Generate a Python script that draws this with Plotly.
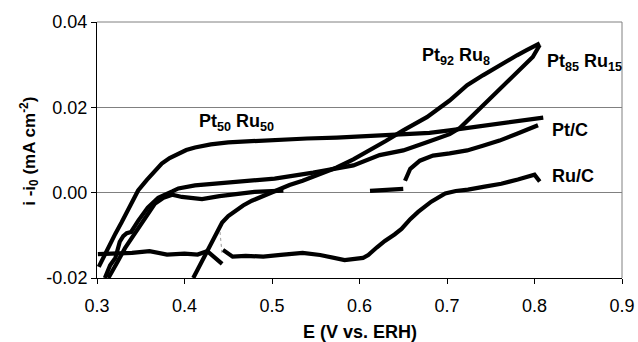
import plotly.graph_objects as go

# ---- data ----
pt50ru50_x = [0.302, 0.312, 0.321, 0.328, 0.335, 0.341, 0.347, 0.357, 0.366, 0.374, 0.383, 0.393, 0.402, 0.412,
              0.43, 0.45, 0.475, 0.503, 0.54, 0.574, 0.61, 0.65, 0.68, 0.703, 0.73, 0.76, 0.785, 0.81]
pt50ru50_y = [-0.0174, -0.013, -0.0096, -0.007, -0.0042, -0.0018, 0.0005, 0.003, 0.0052, 0.0068, 0.0081, 0.0092,
              0.0100, 0.0106, 0.0113, 0.0118, 0.0121, 0.0124, 0.0127, 0.0129, 0.0132, 0.0136, 0.0140, 0.0146,
              0.0153, 0.0162, 0.0169, 0.0176]

pt85ru15_x = [0.309, 0.315, 0.321, 0.326, 0.33, 0.334, 0.339, 0.347, 0.358, 0.37, 0.386, 0.393, 0.412, 0.446,
              0.475, 0.503, 0.547, 0.593, 0.623, 0.65, 0.677, 0.703, 0.715, 0.728, 0.741, 0.76, 0.78, 0.798, 0.806]
pt85ru15_y = [-0.020, -0.017, -0.0153, -0.0115, -0.0102, -0.0095, -0.0092, -0.0066, -0.0035, -0.0012, 0.0003,
              0.001, 0.0017, 0.0023, 0.0028, 0.0033, 0.0047, 0.0064, 0.0088, 0.0099, 0.0118, 0.0137, 0.0152,
              0.0178, 0.0205, 0.0243, 0.028, 0.0318, 0.0346]

ptc_x = [0.313, 0.318, 0.324, 0.332, 0.34, 0.347, 0.355, 0.366, 0.376, 0.386, 0.397, 0.41, 0.42, 0.44, 0.46,
         0.48, 0.513, None, 0.612, 0.63, 0.65, None, 0.652, 0.658, 0.669, 0.684, 0.703, 0.723, 0.741, 0.76,
         0.78, 0.804]
ptc_y = [-0.020, -0.018, -0.016, -0.013, -0.0106, -0.0085, -0.0059, -0.0026, -0.0012, -0.0005, -0.001,
         -0.0013, -0.0015, -0.0008, -0.0003, 0.0002, 0.0005, None, 0.0004, 0.0006, 0.0009, None, 0.0028,
         0.0056, 0.0075, 0.0087, 0.0092, 0.0099, 0.011, 0.0122, 0.0138, 0.0158]

pt92ru8_x = [0.41, 0.418, 0.426, 0.435, 0.443, 0.45, 0.458, 0.467, 0.477, 0.49, 0.503, 0.52, 0.535, 0.555,
             0.574, 0.593, 0.612, 0.63, 0.65, 0.677, 0.703, 0.723, 0.741, 0.76, 0.78, 0.791, 0.806]
pt92ru8_y = [-0.020, -0.0168, -0.0135, -0.0100, -0.0070, -0.0055, -0.0042, -0.003, -0.0019, -0.0008, 0.0005,
             0.0018, 0.0028, 0.0043, 0.0059, 0.0078, 0.0099, 0.0121, 0.0146, 0.0177, 0.0216, 0.0252, 0.0275,
             0.0299, 0.0322, 0.0334, 0.035]

ruc_x = [0.301, 0.32, 0.34, 0.36, 0.38, 0.40, 0.415, 0.426, 0.435, 0.443, None, 0.444, 0.455, 0.47, 0.49,
         0.51, 0.535, 0.555, 0.583, 0.604, 0.61, 0.62, 0.629, 0.64, 0.648, 0.658, 0.667, 0.682, 0.698, 0.71,
         0.724, 0.743, 0.762, 0.781, 0.8, 0.806]
ruc_y = [-0.0144, -0.0143, -0.0141, -0.0137, -0.0145, -0.0143, -0.0145, -0.0137, -0.0152, -0.0167, None,
         -0.0134, -0.015, -0.0148, -0.0150, -0.0146, -0.0141, -0.0146, -0.0158, -0.0153, -0.0146, -0.0128,
         -0.0113, -0.0098, -0.0085, -0.0062, -0.0045, -0.0021, -0.0002, 0.0004, 0.0007, 0.0014, 0.0021,
         0.0031, 0.0042, 0.0026]

ruc_gap_x = [0.4406, 0.443]
ruc_gap_y = [-0.0092, -0.0146]

x_ticks = [0.3, 0.4, 0.5, 0.6, 0.7, 0.8, 0.9]
x_ticktext = ["0.3", "0.4", "0.5", "0.6", "0.7", "0.8", "0.9"]
y_ticks = [-0.02, 0.0, 0.02, 0.04]
y_ticktext = ["-0.02", "0.00", "0.02", "0.04"]

x_title = "<b>E (V vs. ERH)</b>"
y_title = "<b>i -i<sub>0</sub> (mA cm<sup>-2</sup>)</b>"

labels = ["<b>Pt<sub>50</sub> Ru<sub>50</sub></b>", "<b>Pt<sub>92</sub> Ru<sub>8</sub></b>",
          "<b>Pt<sub>85</sub> Ru<sub>15</sub></b>", "<b>Pt/C</b>", "<b>Ru/C</b>"]
label_x = [0.459, 0.71, 0.857, 0.84, 0.844]
label_y = [0.0165, 0.0318, 0.0306, 0.0146, 0.0040]

FONT = "Liberation Sans, Arial, sans-serif"

fig = go.Figure()
for name, xs, ys in [("Pt50Ru50", pt50ru50_x, pt50ru50_y), ("Pt85Ru15", pt85ru15_x, pt85ru15_y),
                     ("Pt/C", ptc_x, ptc_y), ("Pt92Ru8", pt92ru8_x, pt92ru8_y), ("Ru/C", ruc_x, ruc_y)]:
    fig.add_trace(go.Scatter(x=xs, y=ys, mode="lines", name=name,
                             line=dict(color="black", width=4.2), connectgaps=False))
fig.add_trace(go.Scatter(x=ruc_gap_x, y=ruc_gap_y, mode="lines", name="gap",
                         line=dict(color="#999999", width=1, dash="dot")))

for t, lx, ly in zip(labels, label_x, label_y):
    fig.add_annotation(x=lx, y=ly, text=t, showarrow=False, xanchor="center", yanchor="middle",
                       font=dict(family=FONT, size=18, color="black"))

# axis titles as paper annotations for exact placement
fig.add_annotation(xref="paper", yref="paper", x=0.5, y=-0.21, text=x_title, showarrow=False,
                   xanchor="center", yanchor="middle", font=dict(family=FONT, size=18, color="black"))
fig.add_annotation(xref="paper", yref="paper", x=-0.13, y=0.496, text=y_title, showarrow=False,
                   textangle=-90, xanchor="center", yanchor="middle",
                   font=dict(family=FONT, size=17, color="black"))

# top and right frame lines (gray)
fig.add_shape(type="line", xref="x domain", yref="y domain", x0=0, x1=1, y0=1, y1=1,
              line=dict(color="#808080", width=1), layer="below")
fig.add_shape(type="line", xref="x domain", yref="y domain", x0=1, x1=1, y0=0, y1=1,
              line=dict(color="#808080", width=1), layer="below")

fig.update_layout(
    width=638, height=342,
    margin=dict(l=97, r=16, t=22, b=64),
    paper_bgcolor="white", plot_bgcolor="white",
    showlegend=False,
    font=dict(family=FONT, size=18, color="black"),
    xaxis=dict(range=[0.3, 0.9], tickvals=x_ticks, ticktext=x_ticktext, automargin=False,
               showline=True, linecolor="black", linewidth=1, ticks="outside", ticklen=5,
               tickcolor="black", showgrid=False, zeroline=False, ticklabelstandoff=6,
               tickfont=dict(family=FONT, size=18, color="black")),
    yaxis=dict(range=[-0.02, 0.04], tickvals=y_ticks, ticktext=y_ticktext, automargin=False,
               showline=True, linecolor="black", linewidth=1, ticks="outside", ticklen=5,
               tickcolor="black", showgrid=True, gridcolor="#808080", gridwidth=1, zeroline=False,
               tickfont=dict(family=FONT, size=18, color="black")),
)

fig.write_html("out.html")
